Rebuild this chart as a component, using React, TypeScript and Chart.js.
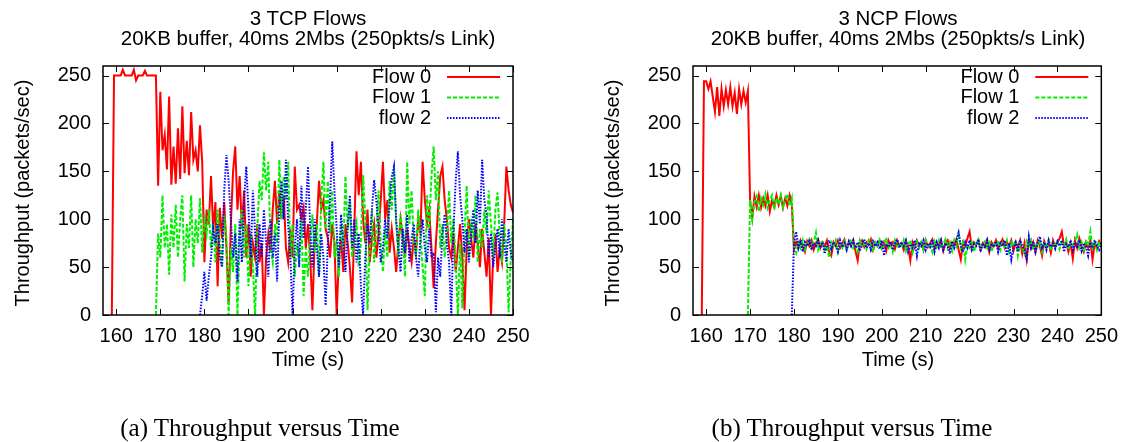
import React, { useEffect, useRef } from "react";
import { Chart, registerables } from "chart.js";

Chart.register(...registerables);

// ---- axes / ticks ----
const X_MIN = 157;
const X_MAX = 250;
const Y_MIN = 0;
const Y_MAX = 260;
const X_TICKS = [160, 170, 180, 190, 200, 210, 220, 230, 240, 250];
const Y_TICKS = [0, 50, 100, 150, 200, 250];

// ---- sample times: first sample and spacing (s) ----
const T_START = 159;
const T_STEP = 0.5;

const FLOW_LABELS = ["Flow 0", "Flow 1", "flow 2"];
const FLOW_COLORS = ["#ff0000", "#00f000", "#0000ff"];
const FLOW_DASHES: number[][] = [[], [4, 2], [1.5, 1.5]];

const N = null;

// ---- 3 TCP flows (packets/sec), one value every 0.5 s from 159 s ----
const TCP_FLOW0 = [
  0, 250, 250, 250, 250, 256, 250, 250, 250, 250,
  256, 245, 250, 250, 250, 255, 250, 250, 250, 250,
  250, 135, 233, 172, 188, 152, 228, 136, 176, 137,
  195, 142, 218, 148, 182, 146, 212, 162, 172, 150,
  198, 160, 55, 110, 95, 145, 88, 118, 30, 112,
  80, 118, 70, 11, 95, 150, 176, 110, 145, 90,
  130, 60, 95, 40, 75, 60, 95, 55, 75, 0,
  60, 85, 65, 110, 140, 95, 130, 100, 125, 70,
  55, 90, 60, 155, 110, 115, 100, 112, 70, 95,
  60, 5, 75, 95, 140, 110, 120, 90, 80, 60,
  95, 75, 0, 60, 80, 45, 95, 75, 50, 13,
  90, 171, 125, 160, 100, 75, 110, 55, 80, 95,
  60, 85, 120, 160, 100, 120, 65, 90, 70, 45,
  75, 100, 80, 60, 90, 70, 55, 80, 65, 100,
  85, 160, 120, 95, 110, 70, 28, 75, 110, 145,
  155, 120, 100, 70, 60, 85, 45, 70, 95, 60,
  5, 70, 100, 80, 60, 95, 75, 50, 90, 65,
  40, 80, 0, 60, 85, 45, 70, 55, 95, 155,
  130, 115, 107,
];

const TCP_FLOW1 = [
  N, N, N, N, N, N, N, N, N, N,
  N, N, N, N, N, N, N, N, N, N,
  0, 85, 60, 125, 70, 95, 42, 105, 70, 115,
  60, 100, 125, 35, 95, 70, 125, 50, 100, 75,
  122, 65, 100, 85, 110, 70, 95, 55, 110, 75,
  50, 105, 80, 0, 70, 45, 95, 0, 80, 110,
  60, 95, 30, 85, 50, 0, 90, 140, 120, 170,
  130, 160, 70, 55, 95, 75, 162, 100, 145, 120,
  160, 60, 95, 40, 75, 55, 100, 20, 70, 40,
  80, 105, 65, 95, 40, 120, 160, 90, 140, 85,
  130, 60, 75, 40, 95, 70, 145, 90, 120, 60,
  80, 95, 50, 75, 146, 100, 5, 70, 110, 55,
  90, 130, 75, 45, 90, 60, 140, 110, 153, 95,
  60, 105, 80, 40, 160, 95, 130, 75, 60, 110,
  85, 50, 20, 125, 90, 145, 176, 120, 150, 70,
  95, 60, 85, 130, 75, 100, 55, 0, 75, 7,
  85, 135, 60, 100, 80, 125, 55, 90, 70, 110,
  85, 130, 95, 60, 110, 128, 80, 55, 95, 70,
  3, 60, 100,
];

const TCP_FLOW2 = [
  N, N, N, N, N, N, N, N, N, N,
  N, N, N, N, N, N, N, N, N, N,
  N, N, N, N, N, N, N, N, N, N,
  N, N, N, N, N, N, N, N, N, N,
  0, 20, 45, 15, 40, 60, 90, 75, 95, 60,
  50, 130, 167, 140, 100, 60, 85, 35, 100, 55,
  120, 155, 110, 60, 130, 85, 40, 95, 60, 110,
  75, 40, 100, 60, 85, 35, 110, 140, 100, 162,
  95, 60, 0, 70, 100, 50, 135, 80, 110, 155,
  90, 50, 100, 70, 40, 85, 60, 10, 75, 120,
  181, 130, 90, 50, 105, 75, 45, 90, 125, 70,
  100, 55, 85, 30, 0, 60, 95, 75, 110, 141,
  120, 90, 55, 70, 100, 80, 115, 144, 155, 100,
  70, 45, 90, 65, 105, 55, 80, 95, 60, 40,
  80, 100, 70, 55, 90, 60, 65, 3, 60, 40,
  85, 105, 75, 55, 0, 90, 140, 171, 125, 100,
  65, 90, 55, 85, 110, 75, 130, 95, 162, 120,
  105, 60, 85, 50, 70, 90, 60, 100, 75, 55,
  90, 65, 55,
];

// ---- 3 NCP flows (packets/sec), one value every 0.5 s from 159 s ----
const NCP_FLOW0 = [
  0, 244, 244, 236, 244, 228, 212, 238, 208, 236,
  218, 235, 220, 238, 218, 232, 210, 236, 220, 234,
  222, 234, 120, 102, 124, 113, 125, 112, 122, 114,
  125, 108, 120, 113, 125, 115, 124, 112, 122, 114,
  125, 116, 68, 76, 70, 78, 72, 66, 77, 72,
  78, 68, 75, 79, 70, 76, 72, 78, 66, 62,
  76, 72, 78, 70, 75, 79, 69, 76, 72, 78,
  67, 57, 75, 78, 71, 76, 73, 79, 68, 75,
  72, 78, 70, 76, 67, 78, 73, 76, 69, 78,
  72, 75, 68, 77, 72, 57, 76, 70, 78, 73,
  76, 68, 78, 71, 75, 79, 69, 76, 72, 78,
  67, 75, 78, 70, 76, 73, 79, 68, 58, 76,
  72, 80, 87, 70, 76, 73, 78, 68, 75, 71,
  78, 66, 76, 72, 78, 69, 75, 79, 70, 76,
  72, 78, 67, 76, 71, 78, 64, 75, 58, 78,
  70, 76, 66, 78, 72, 62, 77, 70, 76, 65,
  78, 71, 76, 80, 87, 72, 76, 66, 75, 59,
  78, 70, 80, 72, 66, 76, 70, 78, 58, 75,
  70, 77, 73,
];

const NCP_FLOW1 = [
  N, N, N, N, N, N, N, N, N, N,
  N, N, N, N, N, N, N, N, N, N,
  N, 0, 120, 100, 118, 124, 108, 122, 115, 126,
  112, 120, 125, 110, 122, 116, 125, 112, 120, 126,
  114, 122, 72, 65, 76, 70, 78, 68, 74, 79,
  70, 76, 86, 68, 74, 78, 66, 72, 60, 76,
  72, 78, 66, 74, 70, 77, 68, 75, 79, 70,
  74, 66, 78, 72, 76, 69, 78, 73, 66, 76,
  72, 78, 68, 75, 79, 70, 74, 66, 78, 72,
  76, 70, 78, 67, 74, 78, 65, 73, 77, 70,
  76, 68, 78, 72, 75, 66, 77, 71, 78, 69,
  74, 79, 70, 76, 67, 78, 72, 86, 70, 76,
  58, 74, 70, 78, 66, 75, 79, 68, 74, 77,
  70, 78, 66, 74, 72, 78, 68, 75, 71, 78,
  66, 76, 72, 78, 62, 74, 70, 64, 77, 72,
  78, 68, 75, 71, 79, 66, 76, 70, 78, 67,
  75, 72, 78, 69, 76, 73, 79, 68, 75, 71,
  77, 84, 70, 76, 66, 78, 72, 87, 70, 76,
  68, 77, 72,
];

const NCP_FLOW2 = [
  N, N, N, N, N, N, N, N, N, N,
  N, N, N, N, N, N, N, N, N, N,
  N, N, N, N, N, N, N, N, N, N,
  N, N, N, N, N, N, N, N, N, N,
  N, 0, 75, 87, 70, 78, 66, 76, 72, 79,
  68, 75, 72, 78, 70, 76, 64, 73, 78, 69,
  76, 72, 66, 78, 71, 75, 68, 77, 72, 78,
  70, 76, 67, 74, 79, 70, 75, 68, 77, 72,
  76, 69, 78, 62, 74, 71, 77, 68, 75, 79,
  70, 76, 72, 78, 66, 74, 70, 78, 62, 76,
  72, 78, 68, 75, 71, 79, 66, 76, 70, 78,
  68, 75, 72, 64, 77, 70, 78, 86, 72, 66,
  76, 70, 78, 68, 74, 72, 79, 66, 75, 70,
  78, 68, 74, 71, 77, 66, 75, 72, 78, 62,
  75, 58, 70, 76, 66, 78, 72, 68, 59, 82,
  70, 77, 66, 75, 82, 70, 76, 68, 78, 71,
  75, 69, 77, 72, 78, 66, 74, 71, 78, 68,
  76, 70, 78, 67, 75, 72, 62, 76, 70, 78,
  72, 68, 75,
];

const SANS = '"Liberation Sans", Arial, Helvetica, sans-serif';
const SERIF = '"Liberation Serif", "Times New Roman", serif';
const LINE_W = 2;

type PanelProps = {
  left: number;
  width: number;
  plotLeft: number;
  plotRight: number;
  title1: string;
  title2: string;
  caption: string;
  captionCenter: number;
  series: (number | null)[][];
};

const PLOT_TOP = 66;
const PLOT_BOTTOM = 315;
const H = 442;

function Panel(p: PanelProps) {
  const ref = useRef<HTMLCanvasElement | null>(null);

  useEffect(() => {
    const canvas = ref.current;
    if (!canvas) return;
    const datasets = p.series.map((vals, k) => ({
      label: FLOW_LABELS[k],
      data: vals
        .map((v, i) => (v === null ? null : { x: T_START + i * T_STEP, y: v }))
        .filter((d) => d !== null),
      borderColor: FLOW_COLORS[k],
      backgroundColor: FLOW_COLORS[k],
      borderWidth: LINE_W,
      borderDash: FLOW_DASHES[k],
      pointRadius: 0,
      fill: false,
      tension: 0,
      order: 2 - k,
    }));

    const framePlugin = {
      id: "gnuFrame",
      afterDatasetsDraw(chart: any) {
        const { ctx, chartArea: a, scales } = chart;
        ctx.save();
        ctx.setLineDash([]);
        ctx.strokeStyle = "#000";
        ctx.lineWidth = 1.5;
        ctx.strokeRect(a.left, a.top, a.right - a.left, a.bottom - a.top);
        ctx.lineWidth = 1;
        ctx.beginPath();
        for (const v of X_TICKS) {
          const px = Math.round(scales.x.getPixelForValue(v)) + 0.5;
          ctx.moveTo(px, a.bottom);
          ctx.lineTo(px, a.bottom - 6);
          ctx.moveTo(px, a.top);
          ctx.lineTo(px, a.top + 6);
        }
        for (const v of Y_TICKS) {
          const py = Math.round(scales.y.getPixelForValue(v)) + 0.5;
          ctx.moveTo(a.left, py);
          ctx.lineTo(a.left + 6, py);
          ctx.moveTo(a.right, py);
          ctx.lineTo(a.right - 6, py);
        }
        ctx.stroke();

        // legend (gnuplot style: right-aligned text, sample to its right)
        ctx.font = `20px ${SANS}`;
        ctx.textAlign = "right";
        ctx.textBaseline = "middle";
        chart.data.datasets.forEach((ds: any, k: number) => {
          const y = a.top + 11 + 20.5 * k;
          ctx.fillStyle = "#000";
          ctx.fillText(ds.label, a.right - 82, y);
          ctx.strokeStyle = ds.borderColor;
          ctx.lineWidth = LINE_W;
          ctx.setLineDash(ds.borderDash || []);
          ctx.beginPath();
          ctx.moveTo(a.right - 66, y);
          ctx.lineTo(a.right - 13, y);
          ctx.stroke();
        });
        ctx.restore();
      },
    };

    const chart = new Chart(canvas, {
      type: "line",
      data: { datasets: datasets as any },
      options: {
        animation: false,
        responsive: false,
        maintainAspectRatio: false,
        layout: {
          padding: { top: PLOT_TOP, left: 0, right: p.width - p.plotRight, bottom: 0 },
        },
        plugins: {
          legend: { display: false },
          title: { display: false },
          tooltip: { enabled: false },
        },
        scales: {
          x: {
            type: "linear",
            min: X_MIN,
            max: X_MAX,
            afterBuildTicks: (s: any) => {
              s.ticks = X_TICKS.map((v) => ({ value: v }));
            },
            afterFit: (s: any) => {
              s.height = H - PLOT_BOTTOM;
            },
            grid: { display: false, drawTicks: false },
            border: { display: false },
            ticks: {
              color: "#000",
              padding: 9,
              maxRotation: 0,
              autoSkip: false,
              font: { family: SANS, size: 20 },
            },
          },
          y: {
            type: "linear",
            min: Y_MIN,
            max: Y_MAX,
            afterBuildTicks: (s: any) => {
              s.ticks = Y_TICKS.map((v) => ({ value: v }));
            },
            afterFit: (s: any) => {
              s.width = p.plotLeft;
            },
            grid: { display: false, drawTicks: false },
            border: { display: false },
            ticks: {
              color: "#000",
              padding: 12,
              autoSkip: false,
              font: { family: SANS, size: 20 },
            },
          },
        },
      } as any,
      plugins: [framePlugin],
    });
    return () => chart.destroy();
  }, []);

  const plotCenter = (p.plotLeft + p.plotRight) / 2;
  const plotMid = (PLOT_TOP + PLOT_BOTTOM) / 2;
  const textBase: React.CSSProperties = {
    position: "absolute",
    fontFamily: SANS,
    fontSize: 20,
    color: "#000",
    whiteSpace: "nowrap",
    textAlign: "center",
  };

  return (
    <div style={{ position: "absolute", left: p.left, top: 0, width: p.width, height: H }}>
      <canvas
        ref={ref}
        width={p.width}
        height={H}
        style={{ position: "absolute", left: 0, top: 0, width: p.width, height: H, display: "block" }}
      />
      <div
        style={{
          ...textBase,
          fontSize: 20.5,
          left: plotCenter - 250,
          width: 500,
          top: 8,
          lineHeight: "19.5px",
        }}
      >
        {p.title1}
        <br />
        {p.title2}
      </div>
      <div
        style={{
          ...textBase,
          left: p.plotLeft - 81 - 150,
          width: 300,
          top: plotMid + 2 - 10,
          lineHeight: "20px",
          transform: "rotate(-90deg)",
        }}
      >
        Throughput (packets/sec)
      </div>
      <div style={{ ...textBase, left: plotCenter - 100, width: 200, top: 349, lineHeight: "20px" }}>
        Time (s)
      </div>
      <div
        style={{
          ...textBase,
          fontFamily: SERIF,
          fontSize: 25,
          left: p.captionCenter - 200,
          width: 400,
          top: 414,
          lineHeight: "28px",
        }}
      >
        {p.caption}
      </div>
    </div>
  );
}

export default function App() {
  return (
    <div
      style={{
        position: "absolute",
        left: 0,
        top: 0,
        width: 1127,
        height: H,
        background: "#fff",
        overflow: "hidden",
      }}
    >
      <Panel
        left={0}
        width={563}
        plotLeft={103}
        plotRight={513}
        title1="3 TCP Flows"
        title2="20KB buffer, 40ms 2Mbs (250pkts/s Link)"
        caption="(a) Throughput versus Time"
        captionCenter={260}
        series={[TCP_FLOW0, TCP_FLOW1, TCP_FLOW2]}
      />
      <Panel
        left={563}
        width={564}
        plotLeft={130}
        plotRight={540}
        title1="3 NCP Flows"
        title2="20KB buffer, 40ms 2Mbs (250pkts/s Link)"
        caption="(b) Throughput versus Time"
        captionCenter={852 - 563}
        series={[NCP_FLOW0, NCP_FLOW1, NCP_FLOW2]}
      />
    </div>
  );
}
